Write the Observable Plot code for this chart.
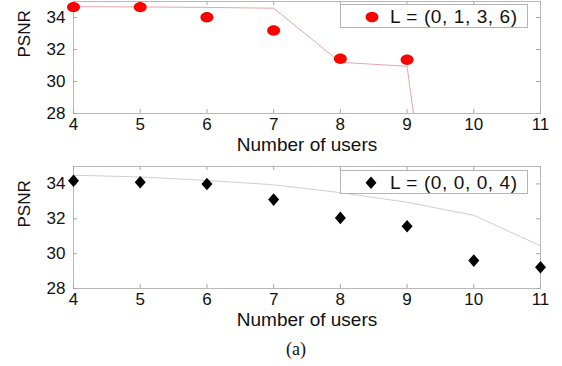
<!DOCTYPE html>
<html>
<head>
<meta charset="utf-8">
<script src="https://cdn.jsdelivr.net/npm/d3@7"></script>
<script src="https://cdn.jsdelivr.net/npm/@observablehq/plot@0.6"></script>
<style>
  html, body { margin: 0; padding: 0; background: #fff; }
  #wrap { position: relative; width: 562px; height: 366px; overflow: hidden; font-family: "Liberation Sans", Arial, sans-serif; }
  .panel { position: absolute; left: 0; }
  .legend { position: absolute; left: 340px; width: 188px; height: 24px; border: 1px solid #b5b5b5; background: #fff; box-sizing: border-box; }
  .legend svg { position: absolute; left: 0; top: 0; }
  .legend span { position: absolute; left: 49px; top: 50%; transform: translateY(-50%); font-size: 19px; letter-spacing: 0.6px; color: #111; white-space: nowrap; line-height: 1; }
  #cap { position: absolute; left: 0; width: 592px; top: 339px; text-align: center; font-family: "Liberation Serif", "Times New Roman", serif; font-size: 18px; color: #111; }
</style>
</head>
<body>
<div id="wrap">
  <div id="p1" class="panel" style="top:0"></div>
  <div id="p2" class="panel" style="top:160px"></div>
  <div class="legend" style="top:4px"><svg width="60" height="24"><ellipse cx="31" cy="12" rx="6.5" ry="5.2" fill="#ff0000"/></svg><span>L = (0, 1, 3, 6)</span></div>
  <div class="legend" style="top:170px"><svg width="60" height="24"><path d="M30,5.5L35.5,11.7L30,18L24.5,11.7Z" fill="#000"/></svg><span>L = (0, 0, 0, 4)</span></div>
  <div id="cap">(a)</div>
</div>
<script>
// x values: number of users
const users = [4, 5, 6, 7, 8, 9, 10, 11];
// top panel, L = (0, 1, 3, 6)
const topPointUsers = [4, 5, 6, 7, 8, 9];
const topPointPSNR = [34.65, 34.65, 34.02, 33.19, 31.42, 31.36];
const topLinePSNR = [34.68, 34.66, 34.63, 34.58, 31.2, 30.95, 0, 0];
// bottom panel, L = (0, 0, 0, 4)
const botPointPSNR = [34.18, 34.1, 34.0, 33.1, 32.05, 31.57, 29.6, 29.22];
const botLinePSNR = [34.5, 34.4, 34.2, 33.95, 33.5, 32.95, 32.2, 30.45];
// ticks
const xTicks = [4, 5, 6, 7, 8, 9, 10, 11];
const yTicks = [28, 30, 32, 34];
const yDomain = [28, 35];

const ellipseSymbol = {
  draw(ctx, size) {
    const rx = 6.5, ry = 5.2, k = 0.5523;
    ctx.moveTo(rx, 0);
    ctx.bezierCurveTo(rx, ry * k, rx * k, ry, 0, ry);
    ctx.bezierCurveTo(-rx * k, ry, -rx, ry * k, -rx, 0);
    ctx.bezierCurveTo(-rx, -ry * k, -rx * k, -ry, 0, -ry);
    ctx.bezierCurveTo(rx * k, -ry, rx, -ry * k, rx, 0);
    ctx.closePath();
  }
};
const diamondSymbol = {
  draw(ctx, size) {
    ctx.moveTo(0, -6.3);
    ctx.lineTo(5.5, 0);
    ctx.lineTo(0, 6.3);
    ctx.lineTo(-5.5, 0);
    ctx.closePath();
  }
};

function panel({height, marginTop, marginBottom, lineData, lineColor, pointData, symbol, fill}) {
  const plotH = height - marginTop - marginBottom;
  const plotW = 562 - 73 - 22;
  const tickColor = "#a8a8a8";
  return Plot.plot({
    width: 562,
    height,
    marginLeft: 73,
    marginRight: 22,
    marginTop,
    marginBottom,
    style: {fontFamily: "'Liberation Sans', Arial, sans-serif", color: "#111", background: "#fff", overflow: "visible"},
    x: {domain: [4, 11], ticks: xTicks},
    y: {domain: yDomain, ticks: yTicks},
    marks: [
      Plot.frame({stroke: "#b8b8b8"}),
      Plot.tickX(xTicks, {x: d => d, insetTop: plotH - 4, stroke: tickColor}),
      Plot.tickX(xTicks, {x: d => d, insetBottom: plotH - 4, stroke: tickColor}),
      Plot.tickY(yTicks, {y: d => d, insetRight: plotW - 4, stroke: tickColor}),
      Plot.tickY(yTicks, {y: d => d, insetLeft: plotW - 4, stroke: tickColor}),
      Plot.axisX({ticks: xTicks, tickFormat: d => String(d), tickSize: 0, tickPadding: 4, fontSize: 17, label: null}),
      Plot.axisY({ticks: yTicks, tickFormat: d => String(d), tickSize: 0, tickPadding: 8, fontSize: 17, label: null}),
      Plot.text(["Number of users"], {frameAnchor: "bottom", dy: 37, fontSize: 19, letterSpacing: 1.5, text: d => d, fill: "#111"}),
      Plot.text(["PSNR"], {frameAnchor: "left", dx: -49, rotate: -90, fontSize: 17, text: d => d, fill: "#111"}),
      Plot.line(lineData, {x: "x", y: "y", stroke: lineColor, strokeWidth: 1, clip: true}),
      Plot.dot(pointData, {x: "x", y: "y", symbol, fill, stroke: "none", r: 5})
    ]
  });
}

const topLine = users.map((x, i) => ({x, y: topLinePSNR[i]}));
const topPts = topPointUsers.map((x, i) => ({x, y: topPointPSNR[i]}));
const botLine = users.map((x, i) => ({x, y: botLinePSNR[i]}));
const botPts = users.map((x, i) => ({x, y: botPointPSNR[i]}));

document.getElementById("p1").append(panel({height: 160, marginTop: 1, marginBottom: 47, lineData: topLine, lineColor: "#e4a6ae", pointData: topPts, symbol: ellipseSymbol, fill: "#ff0000"}));
document.getElementById("p2").append(panel({height: 175, marginTop: 6, marginBottom: 47, lineData: botLine, lineColor: "#cfcfcf", pointData: botPts, symbol: diamondSymbol, fill: "#000"}));
</script>
</body>
</html>
